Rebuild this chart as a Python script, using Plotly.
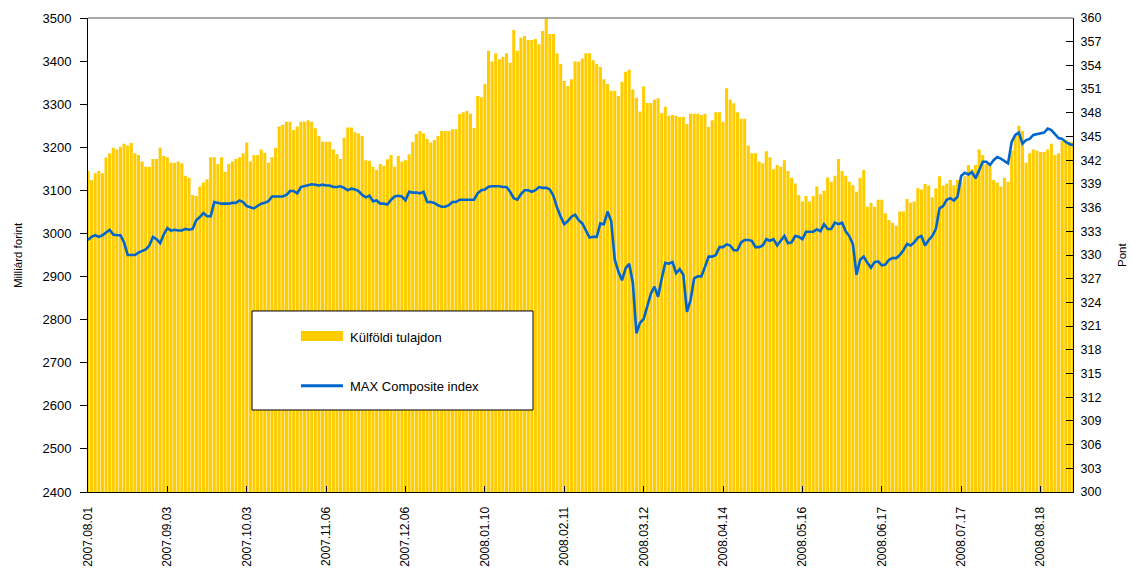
import plotly.graph_objects as go

# ---- data ----
tick_labels = ["2007.08.01", "2007.09.03", "2007.10.03", "2007.11.06", "2007.12.06",
               "2008.01.10", "2008.02.11", "2008.03.12", "2008.04.14", "2008.05.16",
               "2008.06.17", "2008.07.17", "2008.08.18"]
tick_step = 22  # trading days between labelled ticks

# Külföldi tulajdon (Milliárd forint), one value per trading day
foreign_ownership = [
    3145, 3124, 3140, 3145, 3140, 3176, 3186, 3199, 3195, 3201,
    3208, 3204, 3210, 3186, 3182, 3167, 3155, 3155, 3173, 3173,
    3199, 3180, 3177, 3164, 3164, 3167, 3163, 3134, 3129, 3089,
    3087, 3109, 3118, 3126, 3177, 3177, 3161, 3177, 3143, 3161,
    3167, 3173, 3177, 3186, 3211, 3167, 3182, 3182, 3195, 3187,
    3164, 3177, 3199,
    3248, 3252, 3259, 3259, 3240, 3248, 3259, 3259, 3263, 3259,
    3244, 3226, 3213, 3213, 3213, 3195, 3184, 3173, 3222, 3246,
    3246, 3235, 3232, 3226, 3170, 3169, 3155, 3147, 3161, 3157,
    3172, 3182, 3155, 3180, 3167, 3170, 3184, 3212, 3231, 3238,
    3232, 3219, 3211, 3217, 3226, 3238, 3238, 3238, 3242, 3242,
    3277, 3281, 3284, 3278, 3245,
    3319, 3316, 3347, 3424, 3399, 3418, 3404, 3410, 3418, 3396,
    3472, 3424, 3454, 3458, 3449, 3449, 3451, 3439, 3470, 3500,
    3463, 3463, 3418, 3393, 3354, 3342, 3358, 3399, 3399, 3406,
    3418, 3418, 3402, 3393, 3386, 3358, 3347, 3331, 3331, 3319,
    3352, 3375, 3380, 3334, 3315, 3283, 3341, 3303, 3303, 3310,
    3314, 3279, 3294, 3273,
    3275, 3273, 3270, 3270, 3254, 3278, 3278, 3278, 3275, 3278,
    3247, 3263, 3281, 3281, 3259, 3337, 3311, 3302, 3281, 3266,
    3266, 3204, 3186, 3186, 3167, 3163, 3191, 3177, 3149, 3159,
    3155, 3170, 3145, 3129, 3116, 3089, 3074, 3087, 3074, 3087,
    3109, 3091, 3099, 3130, 3120, 3134, 3173, 3145, 3134, 3120,
    3112, 3097, 3129, 3147,
    3062, 3071, 3062, 3078, 3078, 3047, 3031, 3025, 3018, 3051,
    3051, 3080, 3071, 3074, 3105, 3102, 3115, 3111, 3084, 3105,
    3133, 3111, 3116, 3124, 3112, 3124, 3120, 3133, 3159, 3149,
    3159, 3195, 3182, 3161, 3163, 3124, 3118, 3109, 3129, 3120,
    3192, 3226, 3250, 3238, 3164, 3186, 3195, 3192, 3189, 3189,
    3195, 3208, 3182, 3186, 3215, 3217, 3213, 3213,
]

# MAX Composite index (Pont), one value per trading day
max_composite = [
    331.9, 332.3, 332.5, 332.3, 332.5, 332.8, 333.2, 332.6, 332.5, 332.5,
    331.6, 330.0, 330.0, 330.0, 330.3, 330.5, 330.7, 331.2, 332.3, 332.0,
    331.5, 332.6, 333.4, 333.1, 333.2, 333.1, 333.1, 333.3, 333.2, 333.3,
    334.4, 334.8, 335.3, 334.9, 334.9, 336.7, 336.6, 336.5, 336.5, 336.5,
    336.6, 336.6, 336.9, 336.7, 336.2, 336.0, 335.9, 336.2, 336.5, 336.6,
    336.8, 337.4, 337.4, 337.4, 337.4,
    337.6, 338.1, 338.1, 337.8, 338.6, 338.7, 338.8, 338.95, 338.9, 338.8,
    338.9, 338.8, 338.8, 338.6, 338.6, 338.7, 338.5, 338.2, 338.4, 338.3,
    338.1, 337.6, 337.3, 337.5, 336.8, 336.9, 336.5, 336.5, 336.4, 337.0,
    337.4, 337.5, 337.4, 336.9, 338.0, 337.9, 337.9, 337.8, 338.0, 336.7,
    336.7, 336.6, 336.3, 336.1, 336.1, 336.3, 336.7, 336.7, 337.0, 337.0,
    337.0, 337.0, 337.0,
    337.8, 338.2, 338.3, 338.65, 338.7, 338.7, 338.7, 338.6, 338.6, 338.0,
    337.2, 337.0, 337.7, 338.2, 338.2, 338.0, 338.2, 338.6, 338.5, 338.5,
    338.3, 337.5, 336.0, 334.85, 333.9, 334.3, 334.85, 335.1, 334.4, 334.0,
    333.1, 332.2, 332.3, 332.3, 334.0, 333.9, 335.5, 334.3, 329.4, 327.9,
    326.8, 328.3, 328.9, 326.5, 320.1, 321.4, 321.9, 323.5, 325.1, 326.0,
    324.7, 327.0, 329.0, 328.9, 329.1,
    327.7, 328.2, 327.5, 322.8, 324.3, 327.05, 327.3, 327.3, 328.5, 329.8,
    329.8, 330.0, 331.0, 331.0, 331.35, 331.2, 330.6, 330.6, 331.6, 331.9,
    331.9, 331.8, 331.0, 331.0, 331.2, 332.0, 331.8, 332.0, 331.2, 331.8,
    332.4, 331.5, 331.6, 332.4, 332.3, 332.0, 332.95, 332.95, 332.95, 333.25,
    333.0, 333.9, 333.3, 333.3, 334.1, 333.9, 334.1, 333.0, 332.4, 331.35,
    327.5, 329.4, 329.8,
    329.0, 328.4, 329.1, 329.2, 328.7, 328.8, 329.4, 329.6, 329.6, 330.0,
    330.6, 331.4, 331.2, 331.6, 332.2, 332.4, 331.2, 331.9, 332.4, 333.3,
    335.9, 336.2, 337.0, 337.2, 336.9, 337.4, 340.0, 340.4, 340.2, 340.5,
    339.7, 340.7, 341.8, 341.8, 341.4, 342.0, 342.4, 342.2, 341.9, 341.6,
    344.3, 345.2, 345.5, 344.1, 344.55, 344.7, 345.2, 345.3, 345.4, 345.5,
    346.0, 345.8, 345.3, 344.8, 344.7, 344.3, 344.05, 343.9,
]

bar_name = "Külföldi tulajdon"
line_name = "MAX Composite index"

x = list(range(len(foreign_ownership)))
tickvals = [i * tick_step for i in range(len(tick_labels))]

BAR_COLOR = "#FFCC00"
LINE_COLOR = "#0066CC"
FONT = "Liberation Sans, Arial, sans-serif"

fig = go.Figure()
fig.add_trace(go.Bar(x=x, y=foreign_ownership, name=bar_name,
                     marker=dict(color=BAR_COLOR, line=dict(width=0)),
                     showlegend=False, hoverinfo="y"))
fig.add_trace(go.Scatter(x=x, y=max_composite, name=line_name, yaxis="y2",
                         mode="lines", line=dict(color=LINE_COLOR, width=2.6),
                         showlegend=False))

fig.update_layout(
    width=1132, height=569,
    margin=dict(l=88, r=59, t=18, b=77, autoexpand=False),
    paper_bgcolor="white", plot_bgcolor="white",
    bargap=0.15,
    font=dict(family=FONT, size=12, color="black"),
    xaxis=dict(range=[0, len(x) - 1], tickmode="array", tickvals=tickvals,
               ticktext=tick_labels, tickangle=-90, ticks="inside", ticklen=6,
               tickcolor="black", showline=True, linecolor="black", linewidth=1,
               showgrid=False, zeroline=False, ticklabelstandoff=9,
               automargin=False,
               tickfont=dict(family=FONT, size=12, color="black")),
    yaxis=dict(range=[2400, 3500], tick0=2400, dtick=100, ticks="outside",
               ticklen=7, tickcolor="black", showline=True, linecolor="black",
               linewidth=1, showgrid=False, zeroline=False, ticklabelstandoff=6,
               automargin=False,
               tickfont=dict(family=FONT, size=13, color="black")),
    yaxis2=dict(range=[300, 360], tick0=300, dtick=3, overlaying="y",
                side="right", ticks="inside", ticklen=7, tickcolor="black",
                showline=True, linecolor="black", linewidth=1, showgrid=False,
                zeroline=False, ticklabelstandoff=4, automargin=False,
                tickfont=dict(family=FONT, size=12.5, color="black")),
)

# top border of plot area
fig.add_shape(type="line", xref="paper", yref="paper", x0=0, x1=1, y0=1, y1=1,
              line=dict(color="#8c8c8c", width=1.5))

# axis titles
fig.add_annotation(text="Milliárd forint", xref="paper", yref="paper",
                   x=-0.071, y=0.5, xanchor="center", yanchor="middle",
                   textangle=-90, showarrow=False,
                   font=dict(family=FONT, size=11.5, color="black"))
fig.add_annotation(text="Pont", xref="paper", yref="paper",
                   x=1.0497, y=0.5, xanchor="center", yanchor="middle",
                   textangle=-90, showarrow=False,
                   font=dict(family=FONT, size=11.5, color="black"))

# legend box
fig.add_shape(type="rect", xref="paper", yref="paper",
              x0=0.1665, x1=0.4518, y0=0.173, y1=0.3819,
              fillcolor="white", line=dict(color="black", width=1))
fig.add_shape(type="rect", xref="paper", yref="paper",
              x0=0.2162, x1=0.2589, y0=0.3186, y1=0.3397,
              fillcolor=BAR_COLOR, line=dict(width=0))
fig.add_shape(type="line", xref="paper", yref="paper",
              x0=0.2162, x1=0.2589, y0=0.2243, y1=0.2243,
              line=dict(color=LINE_COLOR, width=3))
fig.add_annotation(text=bar_name, xref="paper", yref="paper", x=0.2643, y=0.3264,
                   xanchor="left", yanchor="middle", showarrow=False,
                   font=dict(family=FONT, size=13, color="black"))
fig.add_annotation(text=line_name, xref="paper", yref="paper", x=0.2643, y=0.2222,
                   xanchor="left", yanchor="middle", showarrow=False,
                   font=dict(family=FONT, size=13, color="black"))

# remove the default page margin so the figure sits at the window's corner
post_js = ("document.body.style.margin='0';"
           "document.body.style.padding='0';"
           "document.body.style.overflow='hidden';")
fig.write_html("out.html", post_script=post_js,
               config={"displayModeBar": False})
